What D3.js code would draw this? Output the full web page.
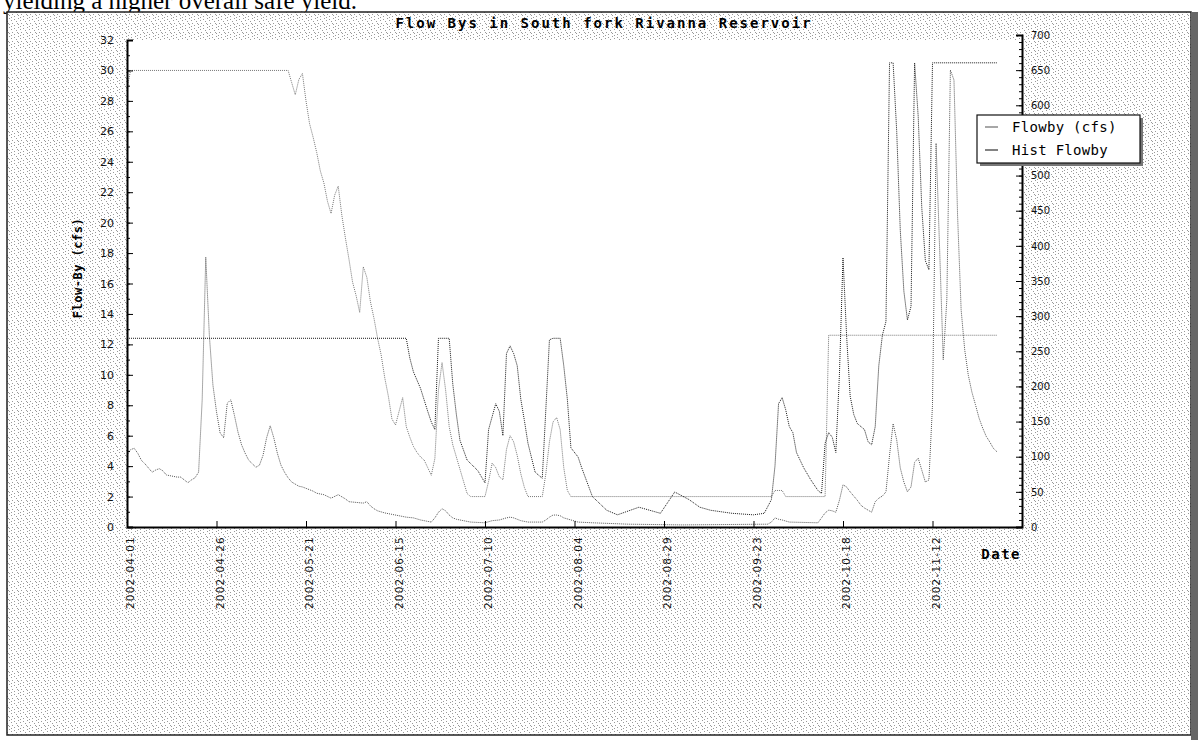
<!DOCTYPE html>
<html>
<head>
<meta charset="utf-8">
<script src="https://cdn.jsdelivr.net/npm/d3@7"></script>
<style>
  body { margin: 0; background: #fff; }
  svg { display: block; }
</style>
</head>
<body>
<div id="chart"></div>
<script>
// Tick dates on the x axis (one every 25 days)
const xTickDates = ["2002-04-01", "2002-04-26", "2002-05-21", "2002-06-15", "2002-07-10",
                    "2002-08-04", "2002-08-29", "2002-09-23", "2002-10-18", "2002-11-12"];
const leftTicks = [0, 2, 4, 6, 8, 10, 12, 14, 16, 18, 20, 22, 24, 26, 28, 30, 32];
const rightTicks = [0, 50, 100, 150, 200, 250, 300, 350, 400, 450, 500, 550, 600, 650, 700];
const legendLabels = ["Flowby (cfs)", "Hist Flowby"];

// Flowby (cfs), left axis
const flowbyData = [
  ["2002-04-01", 28.8], ["2002-04-02", 30.0], ["2002-05-16", 30.0], ["2002-05-17", 29.2],
  ["2002-05-18", 28.4], ["2002-05-19", 29.4], ["2002-05-20", 29.8], ["2002-05-21", 28.0],
  ["2002-05-22", 26.5], ["2002-05-23", 25.6], ["2002-05-24", 24.6], ["2002-05-25", 23.4],
  ["2002-05-26", 22.6], ["2002-05-27", 21.4], ["2002-05-28", 20.6], ["2002-05-29", 21.8],
  ["2002-05-30", 22.4], ["2002-05-31", 20.5], ["2002-06-01", 19.0], ["2002-06-02", 17.6],
  ["2002-06-03", 16.1], ["2002-06-04", 15.2], ["2002-06-05", 14.1], ["2002-06-06", 17.1],
  ["2002-06-07", 16.4], ["2002-06-08", 14.8], ["2002-06-09", 13.7], ["2002-06-10", 12.4],
  ["2002-06-11", 11.3], ["2002-06-12", 9.8], ["2002-06-13", 8.6], ["2002-06-14", 7.1],
  ["2002-06-15", 6.7], ["2002-06-16", 7.6], ["2002-06-17", 8.5], ["2002-06-18", 6.6],
  ["2002-06-19", 5.9], ["2002-06-20", 5.3], ["2002-06-21", 4.9], ["2002-06-22", 4.6],
  ["2002-06-23", 4.4], ["2002-06-24", 3.9], ["2002-06-25", 3.4], ["2002-06-26", 4.5],
  ["2002-06-27", 9.0], ["2002-06-28", 10.8], ["2002-06-29", 9.0], ["2002-06-30", 6.6],
  ["2002-07-01", 5.4], ["2002-07-02", 4.6], ["2002-07-03", 3.8], ["2002-07-04", 3.0],
  ["2002-07-05", 2.2], ["2002-07-06", 2.0], ["2002-07-10", 2.0], ["2002-07-11", 3.0],
  ["2002-07-12", 4.2], ["2002-07-13", 3.9], ["2002-07-14", 3.3], ["2002-07-15", 3.1],
  ["2002-07-16", 5.1], ["2002-07-17", 6.0], ["2002-07-18", 5.6], ["2002-07-19", 4.7],
  ["2002-07-20", 3.5], ["2002-07-21", 2.6], ["2002-07-22", 2.0], ["2002-07-26", 2.0],
  ["2002-07-27", 3.5], ["2002-07-28", 5.6], ["2002-07-29", 6.9], ["2002-07-30", 7.2],
  ["2002-07-31", 6.4], ["2002-08-01", 3.9], ["2002-08-02", 2.4], ["2002-08-03", 2.0],
  ["2002-09-28", 2.0], ["2002-09-29", 2.4], ["2002-10-01", 2.4], ["2002-10-02", 2.0],
  ["2002-10-13", 2.0], ["2002-10-14", 12.6], ["2002-11-30", 12.6]
];

// Hist Flowby, left axis
const histFlowbyData = [
  ["2002-04-01", 12.4], ["2002-06-18", 12.4], ["2002-06-19", 11.1], ["2002-06-20", 10.2],
  ["2002-06-22", 9.1], ["2002-06-24", 7.6], ["2002-06-25", 6.9], ["2002-06-26", 6.4],
  ["2002-06-27", 12.4], ["2002-06-30", 12.4], ["2002-07-01", 9.4], ["2002-07-02", 7.4],
  ["2002-07-03", 5.7], ["2002-07-05", 4.4], ["2002-07-08", 3.7], ["2002-07-10", 2.9],
  ["2002-07-11", 6.4], ["2002-07-13", 8.1], ["2002-07-14", 7.6], ["2002-07-15", 6.0],
  ["2002-07-16", 11.4], ["2002-07-17", 11.9], ["2002-07-18", 11.4], ["2002-07-19", 10.6],
  ["2002-07-20", 8.4], ["2002-07-21", 7.0], ["2002-07-22", 5.5], ["2002-07-24", 3.6],
  ["2002-07-26", 3.2], ["2002-07-28", 12.3], ["2002-07-29", 12.4], ["2002-07-31", 12.4],
  ["2002-08-01", 10.6], ["2002-08-02", 8.4], ["2002-08-03", 5.2], ["2002-08-05", 4.6],
  ["2002-08-06", 3.9], ["2002-08-09", 2.0], ["2002-08-13", 1.1], ["2002-08-16", 0.8],
  ["2002-08-22", 1.3], ["2002-08-28", 0.9], ["2002-09-01", 2.3], ["2002-09-05", 1.8],
  ["2002-09-08", 1.3], ["2002-09-11", 1.1], ["2002-09-17", 0.9], ["2002-09-23", 0.8],
  ["2002-09-26", 0.9], ["2002-09-28", 1.8], ["2002-09-29", 4.0], ["2002-09-30", 8.1],
  ["2002-10-01", 8.5], ["2002-10-02", 7.7], ["2002-10-03", 6.6], ["2002-10-04", 6.2],
  ["2002-10-05", 4.9], ["2002-10-07", 3.9], ["2002-10-09", 3.1], ["2002-10-11", 2.4],
  ["2002-10-12", 2.2], ["2002-10-13", 5.5], ["2002-10-14", 6.2], ["2002-10-15", 5.9],
  ["2002-10-16", 4.9], ["2002-10-17", 10.0], ["2002-10-18", 17.7], ["2002-10-19", 12.6],
  ["2002-10-20", 8.6], ["2002-10-21", 7.4], ["2002-10-22", 6.8], ["2002-10-24", 6.4],
  ["2002-10-25", 5.6], ["2002-10-26", 5.4], ["2002-10-27", 6.6], ["2002-10-28", 10.6],
  ["2002-10-29", 12.6], ["2002-10-30", 13.5], ["2002-10-31", 30.5], ["2002-11-01", 30.5],
  ["2002-11-02", 26.0], ["2002-11-03", 19.5], ["2002-11-04", 15.5], ["2002-11-05", 13.6],
  ["2002-11-06", 14.5], ["2002-11-07", 30.5], ["2002-11-08", 27.0], ["2002-11-09", 21.0],
  ["2002-11-10", 17.5], ["2002-11-11", 16.9], ["2002-11-12", 30.5], ["2002-11-30", 30.5]
];

// Reservoir inflow, right axis
const inflowData = [
  ["2002-04-01", 102], ["2002-04-02", 110], ["2002-04-03", 112], ["2002-04-04", 105],
  ["2002-04-05", 95], ["2002-04-06", 90], ["2002-04-07", 84], ["2002-04-08", 78],
  ["2002-04-09", 81], ["2002-04-10", 83], ["2002-04-11", 80], ["2002-04-12", 74],
  ["2002-04-13", 73], ["2002-04-15", 71], ["2002-04-16", 71], ["2002-04-17", 67],
  ["2002-04-18", 63], ["2002-04-19", 67], ["2002-04-20", 70], ["2002-04-21", 78],
  ["2002-04-22", 181], ["2002-04-23", 384], ["2002-04-24", 273], ["2002-04-25", 202],
  ["2002-04-26", 164], ["2002-04-27", 134], ["2002-04-28", 127], ["2002-04-29", 176],
  ["2002-04-30", 181], ["2002-05-01", 159], ["2002-05-02", 135], ["2002-05-03", 117],
  ["2002-05-04", 105], ["2002-05-05", 95], ["2002-05-06", 90], ["2002-05-07", 85],
  ["2002-05-08", 88], ["2002-05-09", 102], ["2002-05-10", 127], ["2002-05-11", 144],
  ["2002-05-12", 127], ["2002-05-13", 105], ["2002-05-14", 88], ["2002-05-15", 78],
  ["2002-05-16", 70], ["2002-05-17", 64], ["2002-05-18", 61], ["2002-05-19", 58],
  ["2002-05-20", 57], ["2002-05-21", 55], ["2002-05-23", 51], ["2002-05-24", 48],
  ["2002-05-26", 46], ["2002-05-28", 41], ["2002-05-30", 46], ["2002-06-01", 40],
  ["2002-06-02", 36], ["2002-06-06", 34], ["2002-06-07", 36], ["2002-06-08", 30],
  ["2002-06-09", 26], ["2002-06-10", 23], ["2002-06-12", 20], ["2002-06-14", 18],
  ["2002-06-16", 16], ["2002-06-18", 14], ["2002-06-20", 13], ["2002-06-22", 10],
  ["2002-06-25", 7], ["2002-06-26", 13], ["2002-06-27", 21], ["2002-06-28", 26],
  ["2002-06-29", 23], ["2002-06-30", 17], ["2002-07-01", 13], ["2002-07-02", 11],
  ["2002-07-04", 9], ["2002-07-06", 7], ["2002-07-10", 6], ["2002-07-12", 9],
  ["2002-07-14", 10], ["2002-07-16", 13], ["2002-07-17", 14], ["2002-07-18", 13],
  ["2002-07-20", 9], ["2002-07-22", 7], ["2002-07-26", 7], ["2002-07-27", 10],
  ["2002-07-28", 14], ["2002-07-29", 17], ["2002-07-30", 17], ["2002-07-31", 16],
  ["2002-08-01", 13], ["2002-08-03", 10], ["2002-08-05", 7], ["2002-08-09", 6],
  ["2002-08-19", 4], ["2002-09-03", 3], ["2002-09-27", 4], ["2002-09-28", 7],
  ["2002-09-29", 13], ["2002-09-30", 11], ["2002-10-01", 10], ["2002-10-03", 7],
  ["2002-10-11", 6], ["2002-10-12", 13], ["2002-10-13", 20], ["2002-10-14", 24],
  ["2002-10-15", 23], ["2002-10-16", 21], ["2002-10-17", 38], ["2002-10-18", 60],
  ["2002-10-19", 57], ["2002-10-20", 50], ["2002-10-21", 44], ["2002-10-22", 38],
  ["2002-10-23", 31], ["2002-10-24", 27], ["2002-10-25", 24], ["2002-10-26", 21],
  ["2002-10-27", 36], ["2002-10-28", 41], ["2002-10-29", 44], ["2002-10-30", 50],
  ["2002-10-31", 102], ["2002-11-01", 147], ["2002-11-02", 124], ["2002-11-03", 84],
  ["2002-11-04", 64], ["2002-11-05", 50], ["2002-11-06", 57], ["2002-11-07", 92],
  ["2002-11-08", 98], ["2002-11-09", 81], ["2002-11-10", 64], ["2002-11-11", 67],
  ["2002-11-12", 174], ["2002-11-13", 546], ["2002-11-14", 394], ["2002-11-15", 238],
  ["2002-11-16", 323], ["2002-11-17", 650], ["2002-11-18", 636], ["2002-11-19", 444],
  ["2002-11-20", 309], ["2002-11-21", 252], ["2002-11-22", 216], ["2002-11-23", 192],
  ["2002-11-24", 174], ["2002-11-25", 155], ["2002-11-26", 141], ["2002-11-27", 129],
  ["2002-11-28", 121], ["2002-11-29", 112], ["2002-11-30", 107]
];

const parseDate = d3.utcParse("%Y-%m-%d");

const svg = d3.select("#chart").append("svg")
    .attr("width", 1198)
    .attr("height", 740);

// stippled grey fill of the scanned margin (fixed, irregular dot tile)
const defs = svg.append("defs");
const pat = defs.append("pattern")
    .attr("id", "dots")
    .attr("width", 9)
    .attr("height", 9)
    .attr("patternUnits", "userSpaceOnUse");
pat.append("rect").attr("width", 9).attr("height", 9).attr("fill", "#fff");
[[0, 0], [5, 1], [2, 2], [7, 3], [3, 5], [8, 5], [0, 6], [5, 7], [2, 8]].forEach(p => {
    pat.append("rect")
        .attr("x", p[0]).attr("y", p[1])
        .attr("width", 1).attr("height", 1)
        .attr("fill", "#999");
});

// Bit of the page text above the figure
svg.append("text")
    .attr("x", 3)
    .attr("y", 9)
    .style("font-family", "'Liberation Serif', serif")
    .style("font-size", "25px")
    .text("yielding a higher overall safe yield.");

// Outer frame
svg.append("rect")
    .attr("x", 7).attr("y", 12)
    .attr("width", 1184).attr("height", 723)
    .attr("fill", "url(#dots)")
    .attr("stroke", "#222")
    .attr("stroke-width", 1.5);

svg.append("rect")
    .attr("x", 1191).attr("y", 12)
    .attr("width", 7).attr("height", 728)
    .attr("fill", "#666");

// Scales
const x = d3.scaleUtc()
    .domain([parseDate("2002-04-01"), parseDate("2002-12-07")])
    .range([127, 1022]);
const yL = d3.scaleLinear().domain([0, 32]).range([527, 40]);
const yR = d3.scaleLinear().domain([0, 700]).range([527, 35]);

// Plot area
svg.append("rect")
    .attr("x", 127).attr("y", 40)
    .attr("width", 1022 - 127).attr("height", 527 - 40)
    .attr("fill", "#fff");

// Lines
const lineL = d3.line()
    .x(d => x(parseDate(d[0])))
    .y(d => yL(d[1]));
const lineR = d3.line()
    .x(d => x(parseDate(d[0])))
    .y(d => yR(d[1]));

svg.append("path")
    .datum(inflowData)
    .attr("d", lineR)
    .attr("fill", "none")
    .attr("stroke", "#555")
    .attr("stroke-width", 1)
    .attr("stroke-dasharray", "1,1");

svg.append("path")
    .datum(flowbyData)
    .attr("d", lineL)
    .attr("fill", "none")
    .attr("stroke", "#777")
    .attr("stroke-width", 1)
    .attr("stroke-dasharray", "1,1");

svg.append("path")
    .datum(histFlowbyData)
    .attr("d", lineL)
    .attr("fill", "none")
    .attr("stroke", "#1a1a1a")
    .attr("stroke-width", 1)
    .attr("stroke-dasharray", "1,1");

// Left axis
svg.append("g")
    .attr("transform", "translate(127,0)")
    .call(d3.axisLeft(yL).tickValues(d3.range(0, 33, 1)).tickSize(-3).tickFormat(""))
    .call(g => g.select(".domain").remove());

const axL = svg.append("g")
    .attr("transform", "translate(127,0)")
    .call(d3.axisLeft(yL).tickValues(leftTicks).tickSizeInner(-6).tickSizeOuter(-6).tickPadding(13));
axL.select(".domain").attr("stroke-width", 2);
axL.selectAll("text")
    .style("font-family", "'DejaVu Sans', sans-serif")
    .style("font-size", "11px")
    .attr("fill", "#111");

// Right axis (the 550 label sits under the legend)
svg.append("g")
    .attr("transform", "translate(1022,0)")
    .call(d3.axisRight(yR).tickValues(d3.range(0, 701, 10)).tickSize(-3).tickFormat(""))
    .call(g => g.select(".domain").remove());

const axR = svg.append("g")
    .attr("transform", "translate(1022,0)")
    .call(d3.axisRight(yR).tickValues(rightTicks).tickSizeInner(-6).tickSizeOuter(-6).tickPadding(9)
        .tickFormat(d => d === 550 ? "" : d));
axR.select(".domain").attr("stroke-width", 2);
axR.selectAll("text")
    .style("font-family", "'DejaVu Sans', sans-serif")
    .style("font-size", "10px")
    .attr("fill", "#111");

// Bottom axis with rotated date labels
const axB = svg.append("g")
    .attr("transform", "translate(0,527)")
    .call(d3.axisBottom(x)
        .tickValues(xTickDates.map(parseDate))
        .tickSizeInner(-6)
        .tickSizeOuter(0)
        .tickFormat(d3.utcFormat("%Y-%m-%d")));
axB.select(".domain").attr("stroke-width", 2);
axB.selectAll("text")
    .attr("transform", "rotate(-90)")
    .attr("text-anchor", "end")
    .attr("x", -9)
    .attr("y", 3)
    .attr("dy", "0.35em")
    .style("font-family", "'DejaVu Sans', sans-serif")
    .style("font-size", "10.5px")
    .style("letter-spacing", "1.2px")
    .attr("fill", "#111");

// Titles
svg.append("text")
    .attr("x", 604)
    .attr("y", 28)
    .attr("text-anchor", "middle")
    .style("font-family", "'DejaVu Sans Mono', monospace")
    .style("font-weight", "bold")
    .style("font-size", "14px")
    .style("letter-spacing", "2px")
    .text("Flow Bys in South fork Rivanna Reservoir");

svg.append("text")
    .attr("transform", "translate(82,268) rotate(-90)")
    .attr("text-anchor", "middle")
    .style("font-family", "'DejaVu Sans Mono', monospace")
    .style("font-weight", "bold")
    .style("font-size", "12px")
    .style("letter-spacing", "0.5px")
    .text("Flow-By (cfs)");

svg.append("text")
    .attr("x", 1021)
    .attr("y", 559)
    .attr("text-anchor", "end")
    .style("font-family", "'DejaVu Sans Mono', monospace")
    .style("font-weight", "bold")
    .style("font-size", "14px")
    .style("letter-spacing", "1.5px")
    .text("Date");

// Legend
const legend = svg.append("g")
    .attr("transform", "translate(977,115)");

legend.append("rect")
    .attr("x", 3).attr("y", 3)
    .attr("width", 163).attr("height", 48)
    .attr("fill", "#777");

legend.append("rect")
    .attr("width", 163).attr("height", 48)
    .attr("fill", "#fff")
    .attr("stroke", "#111")
    .attr("stroke-width", 1.2);

const legendColors = ["#8a8a8a", "#5a5a5a"];
legendLabels.forEach((label, i) => {
    legend.append("line")
        .attr("x1", 8).attr("x2", 21)
        .attr("y1", 12 + i * 23).attr("y2", 12 + i * 23)
        .attr("stroke", legendColors[i])
        .attr("stroke-width", 1.5);
    legend.append("text")
        .attr("x", 35)
        .attr("y", 12 + i * 23)
        .attr("dy", "0.35em")
        .style("font-family", "'DejaVu Sans Mono', monospace")
        .style("font-size", "14px")
        .style("letter-spacing", "0.3px")
        .text(label);
});
</script>
</body>
</html>
